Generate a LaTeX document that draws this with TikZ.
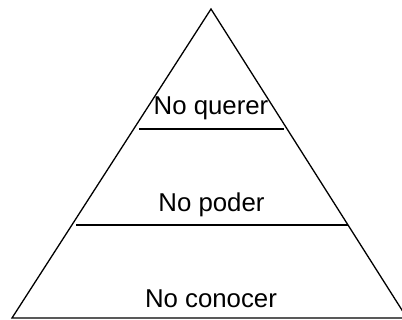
\documentclass[tikz,border=0pt]{standalone}
\usepackage{fontspec}
\setmainfont{Liberation Sans}
\begin{document}
\begin{tikzpicture}[x=1pt,y=-1pt,
  edge/.style={line width=1.3pt,line cap=butt,line join=miter},
  label/.style={anchor=base,inner sep=0pt,font=\fontsize{25.8}{30}\selectfont}]
\useasboundingbox (0,0) rectangle (402,320);
\clip (0,0) rectangle (402,320);
\coordinate (apex) at (211,9);
\coordinate (bl) at (12,318);
\coordinate (br) at (407,318);
\coordinate (q1) at (139,129);
\coordinate (q2) at (284,129);
\coordinate (p1) at (76,225);
\coordinate (p2) at (348,225);
\draw[edge] (apex) -- (br) -- (bl) -- cycle;
\draw[edge] (q1) -- (q2);
\draw[edge] (p1) -- (p2);
\node[label] (querer) at (211,115) {No querer};
\node[label] (poder) at (211.5,211.7) {No poder};
\node[label] (conocer) at (211,307.3) {No conocer};
\end{tikzpicture}
\end{document}
